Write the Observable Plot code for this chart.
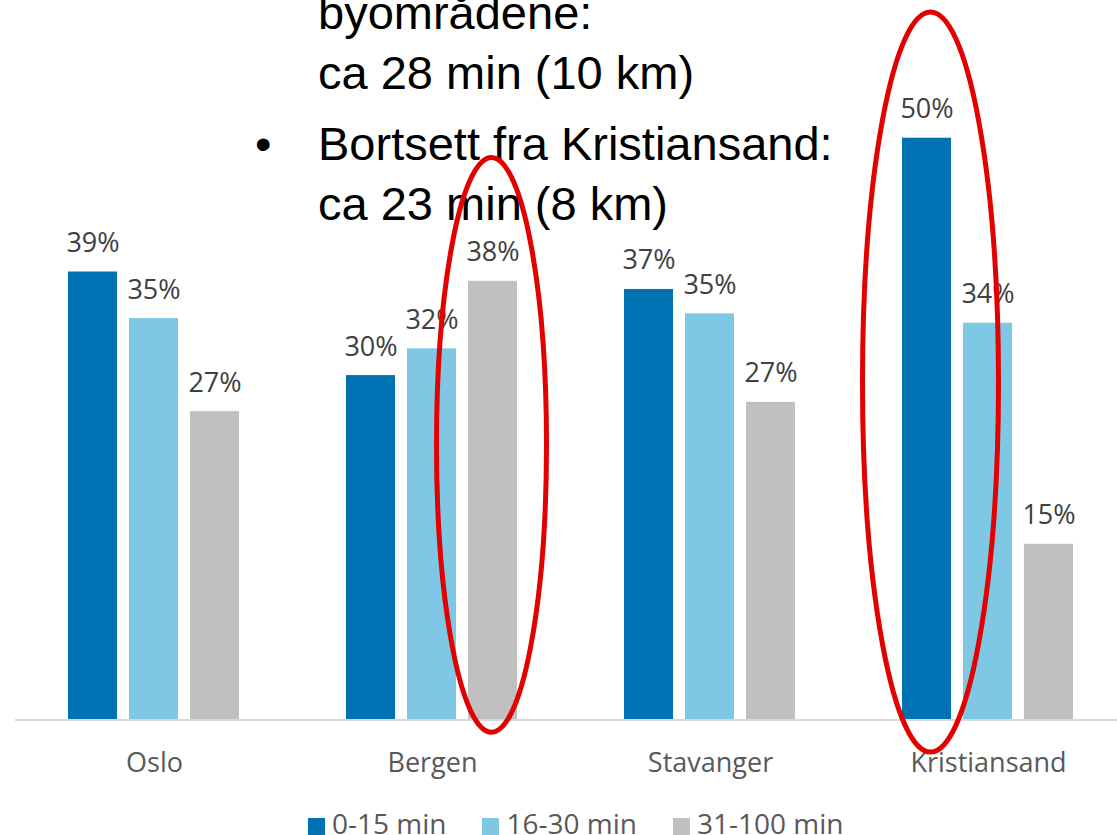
<!DOCTYPE html>
<html>
<head>
<meta charset="utf-8">
<script src="https://cdn.jsdelivr.net/npm/d3@7"></script>
<script src="https://cdn.jsdelivr.net/npm/@observablehq/plot@0.6"></script>
<style>
  html, body { margin: 0; padding: 0; background: #fff; }
  body { width: 1117px; height: 835px; overflow: hidden; position: relative; font-family: "Open Sans", sans-serif; }
  #chart { position: absolute; left: 0; top: 0; z-index: 0; }
  .note { position: absolute; z-index: 1; font-family: "Liberation Sans", Arial, sans-serif; font-size: 47px; line-height: 60px; color: #000; white-space: nowrap; }
  #overlay { position: absolute; left: 0; top: 0; z-index: 2; pointer-events: none; }
  #legend { position: absolute; left: 308px; top: 809px; z-index: 1; display: flex; align-items: flex-start; font-family: "Open Sans", sans-serif; font-size: 28px; line-height: 28px; color: #595959; white-space: nowrap; }
  #legend .item { display: flex; align-items: flex-start; margin-right: 36px; }
  #legend .sw { display: inline-block; width: 17px; height: 17px; margin-top: 9px; margin-right: 7px; }
</style>
</head>
<body>
<div id="chart"></div>
<div class="note" style="left:318px; top:-17px;">byområdene:<br>ca 28 min (10 km)</div>
<div class="note" style="left:255px; top:114px;">•</div>
<div class="note" style="left:318px; top:114px;">Bortsett fra Kristiansand:<br>ca 23 min (8 km)</div>
<div id="legend"></div>
<svg id="overlay" width="1117" height="835"></svg>
<script>
// ---- data ----
const cities = ["Oslo", "Bergen", "Stavanger", "Kristiansand"];
const seriesNames = ["0-15 min", "16-30 min", "31-100 min"];
const share0to15 = [38.5, 29.6, 37.0, 50.0];
const share16to30 = [34.5, 31.9, 34.9, 34.1];
const share31to100 = [26.5, 37.7, 27.3, 15.1];
const seriesColors = ["#0072b4", "#7ec8e5", "#bfc0bf"];

// highlighted bars (red ellipse annotations)
const highlights = [
  { city: "Bergen", series: "31-100 min", top: 48.3, bottom: -1.1, rx: 55, dx: -1 },
  { city: "Kristiansand", series: "0-15 min", top: 60.8, bottom: -2.8, rx: 68, dx: 4 }
];

const seriesArrays = [share0to15, share16to30, share31to100];
const rows = cities.flatMap((city, i) =>
  seriesNames.map((series, j) => ({ city, series, value: seriesArrays[j][i] }))
);

const marginLeft = 15;
const plot = Plot.plot({
  width: 1117,
  height: 835,
  marginLeft,
  marginRight: -10,
  marginTop: 137.7,
  marginBottom: 115.5,
  style: { fontFamily: '"Open Sans", sans-serif', fontSize: "27px", color: "#595959", background: "transparent" },
  fx: { domain: cities, padding: 0, label: null, tickSize: 0, tickPadding: 33, axis: "bottom" },
  x: { domain: seriesNames, paddingInner: 0.19, paddingOuter: 0.84, axis: null },
  y: { domain: [0, 50], axis: null },
  color: { domain: seriesNames, range: seriesColors },
  marks: [
    Plot.barY(rows, { fx: "city", x: "series", y: "value", fill: "series" }),
    Plot.text(rows, {
      fx: "city", x: "series", y: "value",
      text: d => Math.round(d.value) + "%",
      lineAnchor: "bottom", dy: -20, fill: "#404040", fontSize: 27
    }),
    Plot.ruleY([0], { stroke: "#d9d9d9", strokeWidth: 2 })
  ]
});
document.getElementById("chart").appendChild(plot);

// legend
const legend = document.getElementById("legend");
seriesNames.forEach((name, i) => {
  const item = document.createElement("div");
  item.className = "item";
  const sw = document.createElement("span");
  sw.className = "sw";
  sw.style.background = seriesColors[i];
  const label = document.createElement("span");
  label.textContent = name;
  item.appendChild(sw);
  item.appendChild(label);
  legend.appendChild(item);
});

// red ellipses placed with the plot's own scales
const sfx = plot.scale("fx"), sx = plot.scale("x"), sy = plot.scale("y");
const overlay = d3.select("#overlay");
highlights.forEach(h => {
  // facet offset + position inside the facet (x range already starts at the left margin)
  const cx = sfx.apply(h.city) - marginLeft + sx.apply(h.series) + sx.bandwidth / 2 + h.dx;
  const yTop = sy.apply(h.top), yBottom = sy.apply(h.bottom);
  overlay.append("ellipse")
    .attr("cx", cx)
    .attr("cy", (yTop + yBottom) / 2)
    .attr("rx", h.rx)
    .attr("ry", Math.abs(yBottom - yTop) / 2)
    .attr("fill", "none")
    .attr("stroke", "#e30000")
    .attr("stroke-width", 5);
});
</script>
</body>
</html>
